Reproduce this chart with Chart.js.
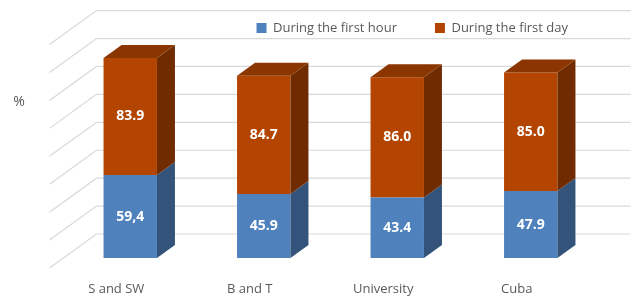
<!DOCTYPE html>
<html>
<head>
<meta charset="utf-8">
<script src="https://cdn.jsdelivr.net/npm/chart.js@4"></script>
<style>
  html, body { margin: 0; padding: 0; background: #fff; }
</style>
</head>
<body>
<canvas id="chart1" width="633" height="300"></canvas>
<script>
const categories = ["S and SW", "B and T", "University", "Cuba"];
const firstHour = [59.4, 45.9, 43.4, 47.9];
const firstDay = [83.9, 84.7, 86.0, 85.0];
const firstHourText = ["59,4", "45.9", "43.4", "47.9"];
const firstDayText = ["83.9", "84.7", "86.0", "85.0"];
const yTicks = [0, 20, 40, 60, 80, 100, 120, 140, 160];

const textGray = "#595959";
const fontName = "'Open Sans', sans-serif";

// side / top colours for the fake 3d look
const sideColors = ["#33537a", "#702c00"];
const topColor = "#8b3500";

// depth of the bars and of the walls
const barDepth = { x: 18, y: -13 };
const wallBack = { x: 33, y: -24 };
const wallFront = { x: -14, y: 10 };

const fake3d = {
    id: "fake3d",
    afterLayout(chart) {
        // legend sits inside the back wall like in the original
        const lg = chart.legend;
        lg.top += 10; lg.bottom += 10;
        lg.left += 8.5; lg.right += 8.5;
    },
    beforeDatasetsDraw(chart) {
        const ctx = chart.ctx;
        const area = chart.chartArea;
        const y = chart.scales.y;
        ctx.save();
        ctx.strokeStyle = "#d9d9d9";
        ctx.lineWidth = 1.2;
        yTicks.forEach(v => {
            const py = y.getPixelForValue(v);
            ctx.beginPath();
            ctx.moveTo(area.left + wallFront.x, py + wallFront.y);
            ctx.lineTo(area.left + wallBack.x, py + wallBack.y);
            ctx.lineTo(area.right + wallBack.x, py + wallBack.y);
            ctx.stroke();
        });
        // percent sign
        ctx.fillStyle = textGray;
        ctx.font = "14px " + fontName;
        ctx.textAlign = "center";
        ctx.textBaseline = "middle";
        ctx.fillText("%", 19, 102);
        ctx.restore();
    },
    afterDatasetsDraw(chart) {
        const ctx = chart.ctx;
        const last = chart.data.datasets.length - 1;
        ctx.save();
        chart.data.datasets.forEach((ds, di) => {
            const meta = chart.getDatasetMeta(di);
            meta.data.forEach((bar, i) => {
                const l = bar.x - bar.width / 2;
                const r = bar.x + bar.width / 2;
                ctx.fillStyle = sideColors[di];
                ctx.beginPath();
                ctx.moveTo(r, bar.y);
                ctx.lineTo(r + barDepth.x, bar.y + barDepth.y);
                ctx.lineTo(r + barDepth.x, bar.base + barDepth.y);
                ctx.lineTo(r, bar.base);
                ctx.closePath();
                ctx.fill();
                if (di === last) {
                    ctx.fillStyle = topColor;
                    ctx.beginPath();
                    ctx.moveTo(l, bar.y);
                    ctx.lineTo(r, bar.y);
                    ctx.lineTo(r + barDepth.x, bar.y + barDepth.y);
                    ctx.lineTo(l + barDepth.x, bar.y + barDepth.y);
                    ctx.closePath();
                    ctx.fill();
                }
                const txt = ds.valueText[i];
                ctx.fillStyle = "#ffffff";
                ctx.font = "bold 14px " + fontName;
                ctx.textAlign = "center";
                ctx.textBaseline = "middle";
                ctx.fillText(txt, bar.x, (bar.y + bar.base) / 2);
            });
        });
        ctx.restore();
    }
};

const chart1 = document.getElementById("chart1");

const barChart = new Chart(chart1, {
    type: "bar",
    data: {
        labels: categories,
        datasets: [{
            label: "During the first hour",
            data: firstHour,
            valueText: firstHourText,
            backgroundColor: "#4f81bd",
            borderWidth: 0
        }, {
            label: "During the first day",
            data: firstDay,
            valueText: firstDayText,
            backgroundColor: "#b34500",
            borderWidth: 0
        }]
    },
    options: {
        responsive: false,
        animation: false,
        layout: {
            padding: { left: 63.5, right: 35.5, top: -26.4, bottom: 0 }
        },
        datasets: {
            bar: { categoryPercentage: 1, barPercentage: 0.4 }
        },
        plugins: {
            legend: {
                position: "top",
                align: "end",
                labels: {
                    boxWidth: 10,
                    boxHeight: 10,
                    padding: 38,
                    color: textGray,
                    font: { family: fontName, size: 13 }
                }
            },
            tooltip: { enabled: false }
        },
        scales: {
            x: {
                stacked: true,
                afterFit(scale) { scale.height = 42; },
                grid: { display: false },
                border: { display: false },
                ticks: {
                    color: textGray,
                    padding: 15,
                    labelOffset: -14,
                    font: { family: fontName, size: 13 }
                }
            },
            y: {
                stacked: true,
                display: false,
                min: 0,
                max: 160,
                ticks: { stepSize: 20 }
            }
        }
    },
    plugins: [fake3d]
});
</script>
</body>
</html>
